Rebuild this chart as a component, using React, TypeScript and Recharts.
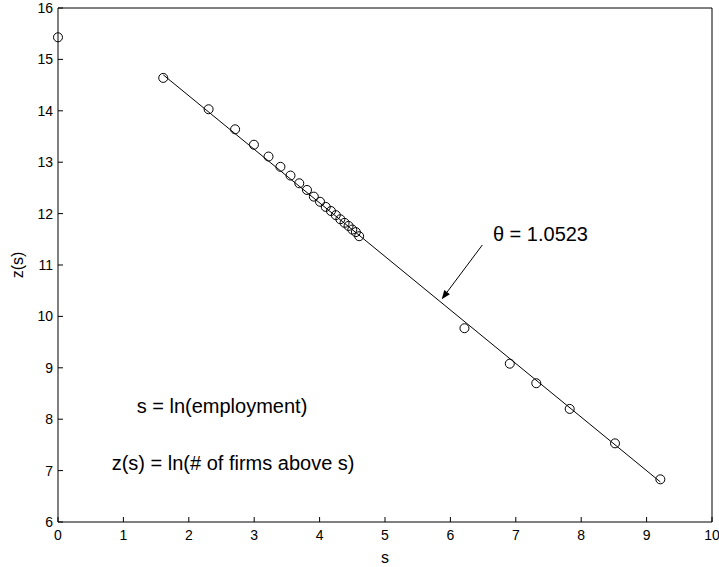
import React from "react";
import {
  ComposedChart,
  Scatter,
  Line,
  XAxis,
  YAxis,
  ReferenceDot,
  ReferenceLine,
} from "recharts";

// --- Data: s = ln(employment), z = ln(# of firms above s) ---
const sValues = [
  0, 1.609, 2.303, 2.708, 2.996, 3.219, 3.401, 3.555, 3.689, 3.807, 3.912,
  4.007, 4.094, 4.174, 4.248, 4.317, 4.382, 4.443, 4.5, 4.554, 4.605, 6.215,
  6.908, 7.313, 7.824, 8.517, 9.21,
];
const zValues = [
  15.43, 14.64, 14.03, 13.64, 13.34, 13.11, 12.91, 12.74, 12.59, 12.46, 12.33,
  12.23, 12.13, 12.05, 11.97, 11.89, 11.82, 11.76, 11.69, 11.64, 11.56, 9.77,
  9.08, 8.7, 8.2, 7.53, 6.83,
];

// fitted line end points
const fitS = [1.609, 9.21];
const fitZ = [14.7, 6.78];

const xTicks = [0, 1, 2, 3, 4, 5, 6, 7, 8, 9, 10];
const yTicks = [6, 7, 8, 9, 10, 11, 12, 13, 14, 15, 16];

// annotation anchors (data coords)
const arrowFrom = { s: 6.488, z: 11.389 };
const arrowTo = { s: 5.867, z: 10.333 };
const thetaLabel = { s: 6.65, z: 11.47, text: "θ = 1.0523" };
const notes = [
  { s: 1.203, z: 8.12, text: "s = ln(employment)" },
  { s: 0.821, z: 7.01, text: "z(s) = ln(# of firms above s)" },
];

const points = sValues.map((s, i) => ({ s, z: zValues[i] }));
const fitLine = fitS.map((s, i) => ({ s, z: fitZ[i] }));

const FONT = "'Liberation Sans', Arial, Helvetica, sans-serif";
const TICK = 5;

const BottomTick = ({ x, y, payload }: any) => (
  <g>
    <line x1={x} y1={y} x2={x} y2={y - TICK} stroke="#000" />
    <text x={x} y={y + 18} textAnchor="middle" fontSize={14} fontFamily={FONT} fill="#000">
      {payload.value}
    </text>
  </g>
);

const LeftTick = ({ x, y, payload }: any) => (
  <g>
    <line x1={x} y1={y} x2={x + TICK} y2={y} stroke="#000" />
    <text x={x - 5} y={y + 5} textAnchor="end" fontSize={14} fontFamily={FONT} fill="#000">
      {payload.value}
    </text>
  </g>
);

const TopTick = ({ x, y }: any) => (
  <line x1={x} y1={y} x2={x} y2={y + TICK} stroke="#000" />
);

const RightTick = ({ x, y }: any) => (
  <line x1={x} y1={y} x2={x - TICK} y2={y} stroke="#000" />
);

const Circle = (p: any) => (
  <circle cx={p.cx} cy={p.cy} r={4.5} fill="none" stroke="#000" strokeWidth={1} />
);

const NoteText = (text: string) => (p: any) => (
  <text x={p.cx} y={p.cy} fontSize={20} fontFamily={FONT} fill="#000">
    {text}
  </text>
);

const Arrow = (p: any) => {
  const { x1, y1, x2, y2 } = p;
  const dx = x2 - x1;
  const dy = y2 - y1;
  const len = Math.sqrt(dx * dx + dy * dy) || 1;
  const ux = dx / len;
  const uy = dy / len;
  const hl = 9;
  const hw = 3.5;
  const bx = x2 - ux * hl;
  const by = y2 - uy * hl;
  return (
    <g>
      <line x1={x1} y1={y1} x2={bx} y2={by} stroke="#000" strokeWidth={1} />
      <polygon
        points={`${x2},${y2} ${bx - uy * hw},${by + ux * hw} ${bx + uy * hw},${by - ux * hw}`}
        fill="#000"
      />
    </g>
  );
};

export default function App() {
  return (
    <div style={{ position: "absolute", left: 0, top: 0, width: 719, height: 567, background: "#fff" }}>
      <ComposedChart
        width={719}
        height={567}
        margin={{ top: 7, right: 6, bottom: 44, left: 57 }}
      >
        <XAxis
          xAxisId="bottom"
          type="number"
          dataKey="s"
          domain={[0, 10]}
          ticks={xTicks}
          interval={0}
          height={1}
          tickSize={0}
          tickMargin={0}
          tickLine={false}
          tick={<BottomTick />}
          axisLine={{ stroke: "#000" }}
          label={{
            content: (props: any) => {
              const vb = props.viewBox || { x: 58, y: 522, width: 654 };
              return (
                <text x={vb.x + vb.width / 2} y={vb.y + 41} textAnchor="middle" fontSize={16} fontFamily={FONT} fill="#000">
                  s
                </text>
              );
            },
          }}
        />
        <XAxis
          xAxisId="top"
          orientation="top"
          type="number"
          dataKey="s"
          domain={[0, 10]}
          ticks={xTicks}
          interval={0}
          height={1}
          tickSize={0}
          tickMargin={0}
          tickLine={false}
          tick={<TopTick />}
          axisLine={{ stroke: "#000" }}
        />
        <YAxis
          yAxisId="left"
          type="number"
          dataKey="z"
          domain={[6, 16]}
          ticks={yTicks}
          interval={0}
          width={1}
          tickSize={0}
          tickMargin={0}
          tickLine={false}
          tick={<LeftTick />}
          axisLine={{ stroke: "#000" }}
          label={{
            content: () => (
              <text
                x={23}
                y={265}
                transform="rotate(-90 23 265)"
                textAnchor="middle"
                fontSize={16}
                fontFamily={FONT}
                fill="#000"
              >
                z(s)
              </text>
            ),
          }}
        />
        <YAxis
          yAxisId="right"
          orientation="right"
          type="number"
          dataKey="z"
          domain={[6, 16]}
          ticks={yTicks}
          interval={0}
          width={1}
          tickSize={0}
          tickMargin={0}
          tickLine={false}
          tick={<RightTick />}
          axisLine={{ stroke: "#000" }}
        />

        <Line
          xAxisId="bottom"
          yAxisId="left"
          data={fitLine}
          dataKey="z"
          stroke="#000"
          strokeWidth={1}
          dot={false}
          activeDot={false}
          isAnimationActive={false}
        />
        <Scatter
          xAxisId="bottom"
          yAxisId="left"
          data={points}
          dataKey="z"
          shape={<Circle />}
          isAnimationActive={false}
        />

        <ReferenceLine
          xAxisId="bottom"
          yAxisId="left"
          segment={[
            { x: arrowFrom.s, y: arrowFrom.z },
            { x: arrowTo.s, y: arrowTo.z },
          ]}
          shape={Arrow}
        />

        <ReferenceDot
          xAxisId="bottom"
          yAxisId="left"
          x={thetaLabel.s}
          y={thetaLabel.z}
          r={0}
          shape={NoteText(thetaLabel.text)}
        />
        {notes.map((n) => (
          <ReferenceDot
            key={n.text}
            xAxisId="bottom"
            yAxisId="left"
            x={n.s}
            y={n.z}
            r={0}
            shape={NoteText(n.text)}
          />
        ))}
      </ComposedChart>
    </div>
  );
}
